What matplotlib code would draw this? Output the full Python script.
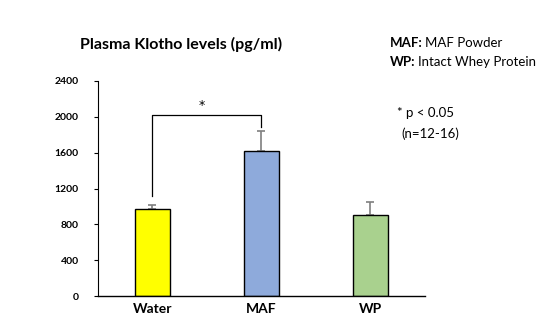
import numpy as np
import matplotlib.pyplot as plt

plt.rcParams['font.family'] = ['Lato', 'DejaVu Sans']

# data
groups = ['Water', 'MAF', 'WP']
klotho = [970, 1620, 900]
klothoErr = [45, 220, 150]
barColors = ['#ffff00', '#8eaadb', '#a9d18e']
yTicks = [0, 400, 800, 1200, 1600, 2000, 2400]

fig = plt.figure(figsize=(5.58, 3.25), dpi=100)
ax = fig.add_axes([0.1756, 0.0892, 0.586, 0.6616])

x = np.arange(len(groups))
ax.bar(x, klotho, width=0.32, color=barColors, edgecolor='black', linewidth=1.0, zorder=2)
# only the upper error whisker is shown
ax.errorbar(x, klotho, yerr=[np.zeros(len(klotho)), klothoErr], fmt='none',
            ecolor='#7f7f7f', elinewidth=1.2, capsize=3, capthick=1.2, zorder=1)

ax.set_xlim(-0.5, 2.5)
ax.set_ylim(0, 2400)
ax.set_yticks(yTicks)
ax.set_yticklabels([str(t) for t in yTicks], fontsize=7.5, fontweight='bold')
ax.set_xticks(x)
ax.set_xticklabels(groups, fontsize=10, fontweight='bold')
ax.tick_params(axis='x', length=0, pad=5)
ax.tick_params(axis='y', length=3, width=0.8, pad=11)
for side in ['top', 'right']:
    ax.spines[side].set_visible(False)
ax.spines['left'].set_linewidth(0.8)
ax.spines['bottom'].set_linewidth(1.0)

# significance bracket Water vs MAF
ax.plot([0, 0, 1, 1], [1115, 2020, 2020, 1890], color='black', linewidth=0.9)
ax.text(0.45, 2130, '*', ha='center', va='center', fontsize=9, family='DejaVu Sans')

fig.text(0.143, 0.862, 'Plasma Klotho levels (pg/ml)', fontsize=11.5, fontweight='bold',
         ha='left', va='center')

# legend notes: bold key followed by plain description
renderer = fig.canvas.get_renderer()
for yPos, key, desc in [(0.868, 'MAF:', 'MAF Powder'), (0.810, 'WP:', 'Intact Whey Protein')]:
    t = fig.text(0.698, yPos, key, fontsize=9.5, fontweight='bold', ha='left', va='center')
    bb = t.get_window_extent(renderer=renderer)
    fig.text((bb.x1 + 3) / fig.bbox.width, yPos, desc, fontsize=9.5, ha='left', va='center')

fig.text(0.711, 0.652, '* p < 0.05', fontsize=9.5, ha='left', va='center')
fig.text(0.720, 0.590, '(n=12-16)', fontsize=9.5, ha='left', va='center')

fig.savefig('out.png', dpi=100)
